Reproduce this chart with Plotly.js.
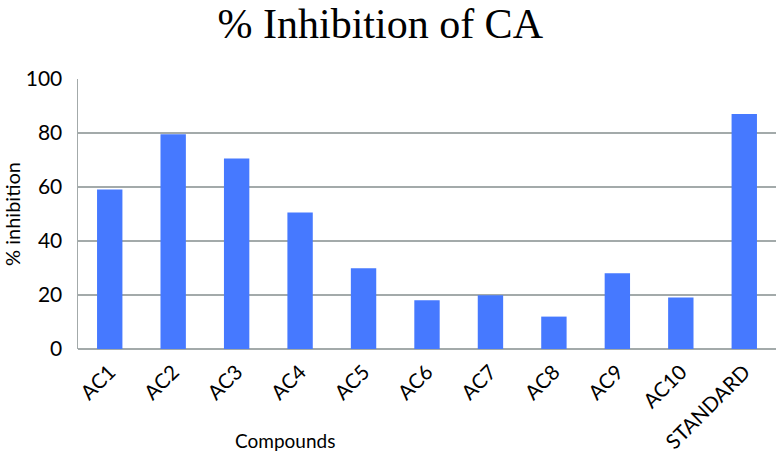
<!DOCTYPE html>
<html><head><meta charset="utf-8">
<script src="https://cdn.plot.ly/plotly-3.0.1.min.js"></script>
<style>body{margin:0;background:#fff}#c{width:776px;height:453px}</style>
</head><body><div id="c"></div>
<script>
const compounds = ["AC1","AC2","AC3","AC4","AC5","AC6","AC7","AC8","AC9","AC10","STANDARD"];
const inhibition = [59.1, 79.5, 70.6, 50.6, 29.9, 18.1, 19.9, 12.0, 28.1, 19.1, 87.0];
const yTicks = [0, 20, 40, 60, 80, 100];

const grid = '#a3aaaa';
Plotly.newPlot('c', [{
  type: 'bar', x: compounds, y: inhibition,
  marker: {color: '#4679ff', line: {width: 0}},
  hoverinfo: 'skip'
}], {
  width: 776, height: 453,
  margin: {l: 78, r: 0, t: 79, b: 104, pad: 0},
  paper_bgcolor: '#fff', plot_bgcolor: '#fff',
  bargap: 0.6,
  showlegend: false,
  title: {text: '% Inhibition of CA', font: {family: 'Liberation Serif', size: 42, color: '#000'},
          x: 0.49, xanchor: 'center', y: 0.982, yanchor: 'top'},
  xaxis: {
    tickangle: -45, tickfont: {family: 'Lato', size: 20.5, color: '#000'},
    showline: false, showgrid: false, ticks: '', ticklabelstandoff: 6
  },
  yaxis: {
    range: [0, 100], tickvals: yTicks, ticktext: yTicks.map(String),
    tickfont: {family: 'Lato', size: 21, color: '#000'},
    showgrid: true, gridcolor: grid, gridwidth: 1.5,
    showline: true, linecolor: grid, linewidth: 1.5,
    zeroline: true, zerolinecolor: grid, zerolinewidth: 1.5,
    ticks: '', ticklabelstandoff: 10,
    title: {text: '% inhibition', font: {family: 'Lato', size: 20, color: '#000'}, standoff: 10}
  },
  annotations: [{
    text: 'Compounds', xref: 'paper', yref: 'paper', x: 0.296, y: 0, yshift: -91,
    xanchor: 'center', yanchor: 'middle', showarrow: false,
    font: {family: 'Lato', size: 19, color: '#000'}
  }]
}, {displayModeBar: false, staticPlot: true});
</script></body></html>
